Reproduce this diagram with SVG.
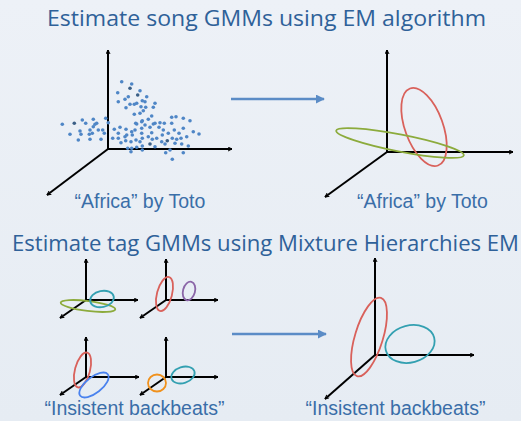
<svg xmlns="http://www.w3.org/2000/svg" width="521" height="421" viewBox="0 0 521 421">
<defs>
<linearGradient id="bg" x1="0" y1="0" x2="0" y2="1">
<stop offset="0" stop-color="#edf1f7"/>
<stop offset="1" stop-color="#e6ecf3"/>
</linearGradient>
<marker id="ax" viewBox="0 0 10 10" refX="9" refY="5" markerWidth="5" markerHeight="5" orient="auto" markerUnits="userSpaceOnUse">
<path d="M1,1 L9,5 L1,9" fill="none" stroke="#000" stroke-width="2"/>
</marker>
<marker id="bl" viewBox="0 0 10 10" refX="9" refY="5" markerWidth="9" markerHeight="9" orient="auto" markerUnits="userSpaceOnUse">
<path d="M0,0 L10,5 L0,10 z" fill="#5b8cc6"/>
</marker>
</defs>
<style>
.title{font-family:"Open Sans","Noto Sans",sans-serif;font-size:22px;fill:#2f6199}
.lbl{font-family:"Liberation Sans",Arial,sans-serif;font-size:19.5px;fill:#3a6ea8;text-anchor:middle}
.axis{stroke:#000;stroke-width:2;fill:none;marker-end:url(#ax)}
.conn{stroke:#5b8cc6;stroke-width:2.5;fill:none;marker-end:url(#bl)}
.e{fill:none;stroke-width:1.8}
.red{stroke:#d9615b}.grn{stroke:#8cab3c}.teal{stroke:#33a0b1}.pur{stroke:#8b66a8}.blu{stroke:#4a82ee}.org{stroke:#f0911c}
.d{fill:#4f86c6}.dd{fill:#3b5f86}
</style>
<rect width="521" height="421" fill="url(#bg)"/>
<text class="title" x="47" y="26" textLength="439" lengthAdjust="spacingAndGlyphs">Estimate song GMMs using EM algorithm</text>
<text class="title" x="12" y="251" textLength="507" lengthAdjust="spacingAndGlyphs">Estimate tag GMMs using Mixture Hierarchies EM</text>

<g id="song-scatter">
<line class="axis" x1="108" y1="149" x2="108" y2="50"/>
<line class="axis" x1="108" y1="149" x2="232" y2="149"/>
<line class="axis" x1="108" y1="149" x2="47" y2="195"/>
<g class="d">
<circle cx="121.7" cy="81.7" r="1.8"/><circle cx="131.7" cy="84" r="1.8"/><circle cx="130" cy="88.3" r="1.8" class="dd"/><circle cx="140" cy="90.7" r="1.8"/>
<circle cx="117.7" cy="92.7" r="1.8"/><circle cx="137.7" cy="95" r="1.8" class="dd"/><circle cx="128.3" cy="96.7" r="1.8"/><circle cx="146.7" cy="96.7" r="1.8"/>
<circle cx="125" cy="99.3" r="1.8"/><circle cx="142.3" cy="100.7" r="1.8"/><circle cx="118.3" cy="101.7" r="1.8"/><circle cx="145" cy="101.7" r="1.8"/>
<circle cx="136.7" cy="103.3" r="1.8"/><circle cx="130" cy="104.3" r="1.8"/><circle cx="134.3" cy="104.3" r="1.8"/><circle cx="155" cy="103.3" r="1.8"/>
<circle cx="141" cy="106.7" r="1.8"/><circle cx="126" cy="107.7" r="1.8"/><circle cx="145.7" cy="107.3" r="1.8"/><circle cx="153.3" cy="107.3" r="1.8"/>
<circle cx="143.3" cy="110.7" r="1.8"/><circle cx="140" cy="113.3" r="1.8"/><circle cx="134.3" cy="114.3" r="1.8"/><circle cx="151.7" cy="116" r="1.8"/>
<circle cx="148.3" cy="119.3" r="1.8"/><circle cx="141.7" cy="121.7" r="1.8"/><circle cx="135.7" cy="123.3" r="1.8"/><circle cx="155" cy="123.3" r="1.8"/>
<circle cx="62.3" cy="124.3" r="1.8"/><circle cx="74.3" cy="123.3" r="1.8" class="dd"/><circle cx="82.3" cy="120" r="1.8"/><circle cx="85.7" cy="123.3" r="1.8"/>
<circle cx="93.3" cy="119.3" r="1.8"/><circle cx="96.7" cy="123.3" r="1.8"/><circle cx="105.7" cy="118.3" r="1.8"/><circle cx="108.3" cy="122.7" r="1.8"/>
<circle cx="70" cy="134.3" r="1.8"/><circle cx="80" cy="131" r="1.8"/><circle cx="81" cy="134.3" r="1.8"/><circle cx="78.3" cy="140" r="1.8"/>
<circle cx="90" cy="130" r="1.8"/><circle cx="89.3" cy="134.3" r="1.8"/><circle cx="92.3" cy="133.3" r="1.8"/><circle cx="98.3" cy="130" r="1.8"/>
<circle cx="102.7" cy="130" r="1.8"/><circle cx="104.3" cy="133.3" r="1.8"/><circle cx="90" cy="139.3" r="1.8"/><circle cx="101" cy="139.3" r="1.8"/>
<circle cx="93.3" cy="126.7" r="1.8"/><circle cx="95" cy="124.3" r="1.8"/>
<circle cx="114.3" cy="129.3" r="1.8"/><circle cx="120" cy="127.3" r="1.8"/><circle cx="126" cy="129.3" r="1.8"/><circle cx="118.3" cy="133.3" r="1.8"/>
<circle cx="131.7" cy="131.7" r="1.8"/><circle cx="136.7" cy="124" r="1.8"/><circle cx="142.3" cy="120.7" r="1.8"/><circle cx="141.7" cy="128.3" r="1.8"/>
<circle cx="141.7" cy="133.3" r="1.8"/><circle cx="150" cy="127.3" r="1.8"/><circle cx="151.7" cy="132.7" r="1.8"/><circle cx="153.3" cy="124" r="1.8"/>
<circle cx="160" cy="122.7" r="1.8"/><circle cx="164.3" cy="123.3" r="1.8"/><circle cx="159" cy="127.3" r="1.8"/><circle cx="163.3" cy="130" r="1.8"/>
<circle cx="171.7" cy="117.3" r="1.8"/><circle cx="176" cy="116.7" r="1.8"/><circle cx="183.3" cy="118.3" r="1.8"/><circle cx="190" cy="120.7" r="1.8"/>
<circle cx="171.7" cy="123.3" r="1.8"/><circle cx="174.3" cy="130" r="1.8"/><circle cx="168.3" cy="133.3" r="1.8"/><circle cx="179" cy="133.3" r="1.8"/>
<circle cx="183.3" cy="128.3" r="1.8"/><circle cx="193.3" cy="131.7" r="1.8"/><circle cx="199" cy="134" r="1.8"/><circle cx="186.7" cy="136.7" r="1.8"/>
<circle cx="181" cy="138.3" r="1.8"/><circle cx="176.7" cy="139.3" r="1.8"/><circle cx="172.3" cy="138.3" r="1.8"/><circle cx="167.3" cy="140.7" r="1.8" class="dd"/>
<circle cx="161.7" cy="141.7" r="1.8"/><circle cx="162.3" cy="135" r="1.8"/><circle cx="156.7" cy="138.3" r="1.8"/><circle cx="152.3" cy="139.3" r="1.8"/>
<circle cx="148.3" cy="136.7" r="1.8"/><circle cx="142.3" cy="138.3" r="1.8"/><circle cx="140" cy="141.7" r="1.8"/><circle cx="136" cy="140" r="1.8"/>
<circle cx="131" cy="141.7" r="1.8"/><circle cx="125.7" cy="140.7" r="1.8"/><circle cx="121" cy="142.7" r="1.8"/><circle cx="118.3" cy="138.3" r="1.8"/>
<circle cx="112.7" cy="138.3" r="1.8"/><circle cx="125" cy="136.7" r="1.8"/><circle cx="142.3" cy="146" r="1.8"/><circle cx="150" cy="144" r="1.8" class="dd"/>
<circle cx="155" cy="146.7" r="1.8"/><circle cx="165" cy="144" r="1.8"/><circle cx="170" cy="150" r="1.8"/><circle cx="165.7" cy="152.7" r="1.8"/>
<circle cx="175" cy="143.3" r="1.8"/><circle cx="181.7" cy="144" r="1.8"/><circle cx="188.3" cy="146" r="1.8"/><circle cx="183.3" cy="152.7" r="1.8"/>
<circle cx="172.3" cy="159.3" r="1.8"/><circle cx="127.7" cy="148.3" r="1.8"/><circle cx="131.7" cy="148.3" r="1.8"/><circle cx="131" cy="151.7" r="1.8"/>
<circle cx="142.3" cy="150" r="1.8"/><circle cx="136.7" cy="147.3" r="1.8"/><circle cx="145" cy="125" r="1.8"/><circle cx="135" cy="130" r="1.8"/>
<circle cx="126.7" cy="135" r="1.8"/><circle cx="132.3" cy="135" r="1.8"/>
</g>
<text class="lbl" x="140" y="208">“Africa” by Toto</text>
</g>

<g id="song-gmm">
<line class="axis" x1="387" y1="152" x2="387" y2="50"/>
<line class="axis" x1="387" y1="152" x2="513" y2="152"/>
<line class="axis" x1="387" y1="152" x2="325" y2="197"/>
<ellipse class="e red" cx="424" cy="127" rx="19" ry="41" transform="rotate(-20 424 127)"/>
<ellipse class="e grn" cx="400" cy="143" rx="65" ry="8.5" transform="rotate(11 400 143)"/>
<text class="lbl" x="422.5" y="208">“Africa” by Toto</text>
</g>

<g id="tag-songs">
<line class="axis" x1="86" y1="300" x2="86" y2="259"/>
<line class="axis" x1="86" y1="300" x2="138" y2="300"/>
<line class="axis" x1="86" y1="300" x2="60" y2="318"/>
<ellipse class="e grn" cx="88" cy="306" rx="27.5" ry="5" transform="rotate(7 88 306)"/>
<ellipse class="e teal" cx="102" cy="299" rx="12" ry="8" transform="rotate(-12 102 299)"/>

<line class="axis" x1="166" y1="300" x2="166" y2="259"/>
<line class="axis" x1="166" y1="300" x2="218" y2="300"/>
<line class="axis" x1="166" y1="300" x2="140" y2="318"/>
<ellipse class="e red" cx="164.5" cy="294" rx="7.5" ry="17.5" transform="rotate(15 164.5 294)"/>
<ellipse class="e pur" cx="189" cy="291" rx="6" ry="9.5" transform="rotate(15 189 291)"/>

<line class="axis" x1="86" y1="377" x2="86" y2="337"/>
<line class="axis" x1="86" y1="377" x2="139" y2="377"/>
<line class="axis" x1="86" y1="377" x2="60" y2="395"/>
<ellipse class="e red" cx="82.5" cy="370" rx="7.5" ry="18" transform="rotate(15 82.5 370)"/>
<ellipse class="e blu" cx="94" cy="385" rx="17.5" ry="8" transform="rotate(-38 94 385)"/>

<line class="axis" x1="166" y1="377" x2="166" y2="337"/>
<line class="axis" x1="166" y1="377" x2="218" y2="377"/>
<line class="axis" x1="166" y1="377" x2="140" y2="395"/>
<ellipse class="e org" cx="157" cy="383" rx="9" ry="8.5"/>
<ellipse class="e teal" cx="183" cy="375" rx="12" ry="8" transform="rotate(-18 183 375)"/>
<text class="lbl" x="134.5" y="415">“Insistent backbeats”</text>
</g>

<g id="tag-gmm">
<line class="axis" x1="375" y1="355" x2="375" y2="258"/>
<line class="axis" x1="375" y1="355" x2="474" y2="355"/>
<line class="axis" x1="375" y1="355" x2="325" y2="399"/>
<ellipse class="e red" cx="369" cy="337" rx="14" ry="41" transform="rotate(17 369 337)"/>
<ellipse class="e teal" cx="410" cy="344" rx="25" ry="18.5" transform="rotate(-15 410 344)"/>
<text class="lbl" x="395.5" y="415">“Insistent backbeats”</text>
</g>

<g id="connectors">
<line class="conn" x1="231" y1="99" x2="324" y2="99"/>
<line class="conn" x1="232" y1="334" x2="326" y2="334"/>
</g>
</svg>
